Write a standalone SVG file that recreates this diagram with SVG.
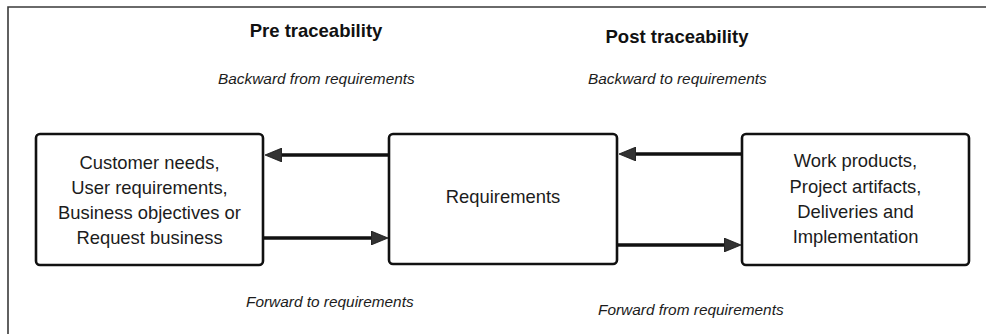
<svg xmlns="http://www.w3.org/2000/svg" width="986" height="334" viewBox="0 0 986 334">
  <style>
    .frame { stroke: #3a3a3a; stroke-width: 1.6; fill: none; }
    .box { fill: #ffffff; stroke: #111111; stroke-width: 2.6; }
    .node-text { font-family: "Liberation Sans", Arial, sans-serif; font-size: 18.4px; fill: #1c1c1c; text-anchor: middle; }
    .title { font-family: "Liberation Sans", Arial, sans-serif; font-size: 18.5px; font-weight: bold; fill: #111111; text-anchor: middle; }
    .label { font-family: "Liberation Sans", Arial, sans-serif; font-size: 15.4px; font-style: italic; fill: #1c1c1c; }
    .link { stroke: #111111; stroke-width: 3.6; fill: none; }
  </style>
  <defs>
    <marker id="head" viewBox="0 0 17 14" markerUnits="userSpaceOnUse" markerWidth="17" markerHeight="14" refX="7" refY="7" orient="auto">
      <path d="M0,0 L17,7 L0,14 Z" fill="#333333" stroke="#111111" stroke-width="0.8"/>
    </marker>
  </defs>

  <rect width="986" height="334" fill="#ffffff"/>

  <!-- outer frame: top and left edges -->
  <path class="frame" d="M8,334 L8,7 L986,7"/>

  <!-- headings and direction labels -->
  <text class="title" x="316" y="37">Pre traceability</text>
  <text class="title" x="677" y="43">Post traceability</text>
  <text class="label" x="218" y="84">Backward from requirements</text>
  <text class="label" x="588" y="84">Backward to requirements</text>
  <text class="label" x="246" y="307">Forward to requirements</text>
  <text class="label" x="598" y="315">Forward from requirements</text>

  <g id="connectors">
    <path class="link" d="M389,155 L275,155" marker-end="url(#head)"/>
    <path class="link" d="M263,238 L378,238" marker-end="url(#head)"/>
    <path class="link" d="M742,154 L629,154" marker-end="url(#head)"/>
    <path class="link" d="M617,245 L731,245" marker-end="url(#head)"/>
  </g>

  <g id="customer-needs">
    <rect class="box" x="36" y="134" width="227" height="131" rx="4"/>
    <text class="node-text" x="149.5" y="168.5">Customer needs,</text>
    <text class="node-text" x="149.5" y="193.5">User requirements,</text>
    <text class="node-text" x="149.5" y="218.5">Business objectives or</text>
    <text class="node-text" x="149.5" y="243.5">Request business</text>
  </g>

  <g id="requirements">
    <rect class="box" x="389" y="134" width="228" height="130" rx="4"/>
    <text class="node-text" x="503" y="202.5">Requirements</text>
  </g>

  <g id="work-products">
    <rect class="box" x="742" y="134" width="227" height="131" rx="4"/>
    <text class="node-text" x="855.5" y="167">Work products,</text>
    <text class="node-text" x="855.5" y="193">Project artifacts,</text>
    <text class="node-text" x="855.5" y="218">Deliveries and</text>
    <text class="node-text" x="855.5" y="243">Implementation</text>
  </g>
</svg>
